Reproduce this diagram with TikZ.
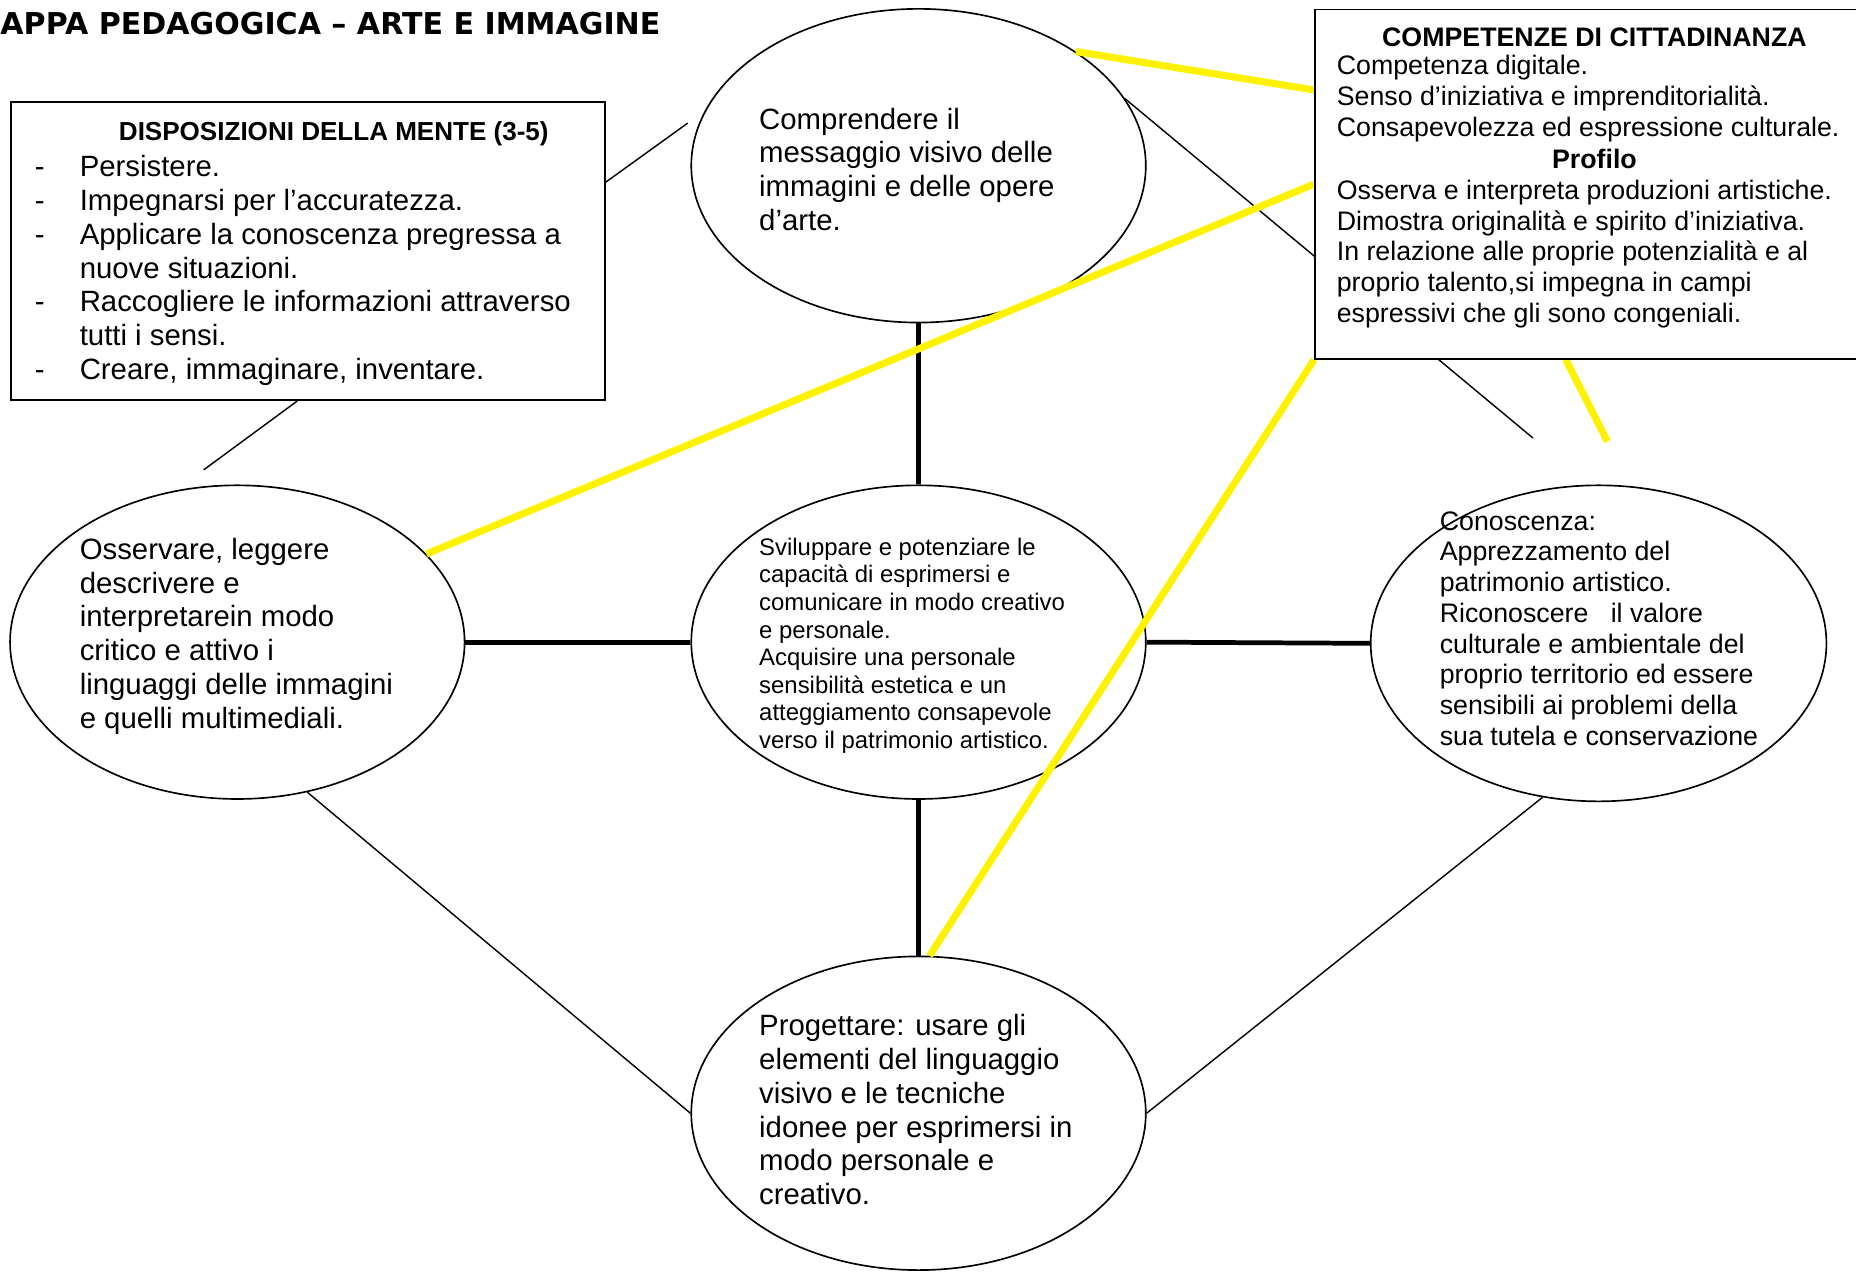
\documentclass[tikz,border=0pt]{standalone}
\usepackage{fontspec}
\setmainfont{Liberation Sans}
\newfontfamily\titlefont{DejaVu Sans}
\usetikzlibrary{shapes.geometric}
\pgfdeclarelayer{front}
\pgfsetlayers{main,front}
\newcommand{\itemdash}{\makebox[19pt][l]{-}}
\newcommand{\itemgap}{\makebox[19pt][l]{}}
\begin{document}
\begin{tikzpicture}[x=0.5pt,y=-0.5pt,
  bubble/.style={draw, ellipse, line width=0.7pt, fill=white, minimum width=192pt, minimum height=132.5pt, inner sep=0pt},
  txt/.style={align=left, inner sep=0pt, anchor=west},
  bigtxt/.style={font=\fontsize{12.4pt}{14.25pt}\selectfont},
  smalltxt/.style={font=\fontsize{10.1pt}{11.65pt}\selectfont},
  medtxt/.style={font=\fontsize{11.3pt}{13pt}\selectfont},
  headtxt/.style={inner sep=0pt, font=\bfseries\fontsize{11.3pt}{13pt}\selectfont},
  panel/.style={draw, line width=0.8pt, fill=white, inner sep=0pt},
  link/.style={line width=0.6pt},
  heavy/.style={line width=2pt},
  yel/.style={draw=yellow, line width=3pt}
]
\useasboundingbox (0,0) rectangle (1568,1075);

% boxes on the front layer
\begin{pgfonlayer}{front}
\node[panel, minimum width=251pt, minimum height=126pt] (ndisp) at (260,212) {};
\node[headtxt, font=\bfseries\fontsize{11pt}{13pt}\selectfont] (dhead) at (282,113) {DISPOSIZIONI DELLA MENTE (3-5)};
\node[txt,bigtxt] (dlist) at (29,228.5) {\itemdash Persistere.\\\itemdash Impegnarsi per l’accuratezza.\\\itemdash Applicare la conoscenza pregressa a\\\itemgap nuove situazioni.\\\itemdash Raccogliere le informazioni attraverso\\\itemgap tutti i sensi.\\\itemdash Creare, immaginare, inventare.};

\node[panel, minimum width=230pt, minimum height=147.5pt] (ncomp) at (1341,155.5) {};
\node[headtxt] (chead) at (1347,31.5) {COMPETENZE DI CITTADINANZA};
\node[txt,medtxt] (clist) at (1129,83.5) {Competenza digitale.\\Senso d’iniziativa e imprenditorialità.\\Consapevolezza ed espressione culturale.};
\node[headtxt] (phead) at (1347,134) {Profilo};
\node[txt,medtxt] (plist) at (1129,214.5) {Osserva e interpreta produzioni artistiche.\\Dimostra originalità e spirito d’iniziativa.\\In relazione alle proprie potenzialità e al\\proprio talento,si impegna in campi\\espressivi che gli sono congeniali.};
\end{pgfonlayer}

% title
\node[inner sep=0pt, anchor=west, font=\titlefont\bfseries\fontsize{12.7pt}{15pt}\selectfont] (title) at (0,20) {APPA PEDAGOGICA – ARTE E IMMAGINE};

% ellipses
\node[bubble] (ntop) at (776,140) {};
\node[bubble] (nmid) at (776,542.5) {};
\node[bubble] (nobs) at (200.5,542.5) {};
\node[bubble, minimum width=192.5pt, minimum height=133.5pt] (ncon) at (1350.5,543.5) {};
\node[bubble] (nprog) at (776,940.5) {};

\node[txt,bigtxt] (ttop) at (641,143) {Comprendere il\\messaggio visivo delle\\immagini e delle opere\\d’arte.};
\node[txt,bigtxt] (tobs) at (67,537.5) {Osservare, leggere\\descrivere e\\interpretarein modo\\critico e attivo i\\linguaggi delle immagini\\e quelli multimediali.};
\node[txt,smalltxt] (tmid) at (641,545.5) {Sviluppare e potenziare le\\capacità di esprimersi e\\comunicare in modo creativo\\e personale.\\Acquisire una personale\\sensibilità estetica e un\\atteggiamento consapevole\\verso il patrimonio artistico.};
\node[txt,medtxt] (tcon) at (1216,531) {Conoscenza:\\Apprezzamento del\\patrimonio artistico.\\Riconoscere\ \ \ il valore\\culturale e ambientale del\\proprio territorio ed essere\\sensibili ai problemi della\\sua tutela e conservazione};
\node[txt,bigtxt] (tprog) at (641,937.5) {Progettare: usare gli\\elementi del linguaggio\\visivo e le tecniche\\idonee per esprimersi in\\modo personale e\\creativo.};

% free ends
\coordinate (e1) at (581,104);
\coordinate (e2) at (172,397);
\coordinate (e3) at (1295,370);
\coordinate (e4) at (1358,373);

% thin black connectors
\draw[link] (ndisp.13.2) -- (e1);
\draw[link] (ndisp.266.8) -- (e2);
\draw[link] (ntop.18) -- (e3);
\draw[link] (nobs.-65.8) -- (nprog.180);
\draw[link] (ncon.250.3) -- (nprog.0);

% thick black connectors
\draw[heavy] (ntop.south) -- (nmid.north);
\draw[heavy] (nmid.south) -- (nprog.north);
\draw[heavy] (nobs.east) -- (nmid.west);
\draw[heavy] (nmid.east) -- (ncon.west);

% yellow connectors
\draw[yel] (ntop.36.4) -- (ncomp.161.8);
\draw[yel] (nobs.25.9) -- (ncomp.west);
\draw[yel] (nprog.86) -- (ncomp.south west);
\draw[yel] (ncomp.263.8) -- (e4);
\end{tikzpicture}
\end{document}
